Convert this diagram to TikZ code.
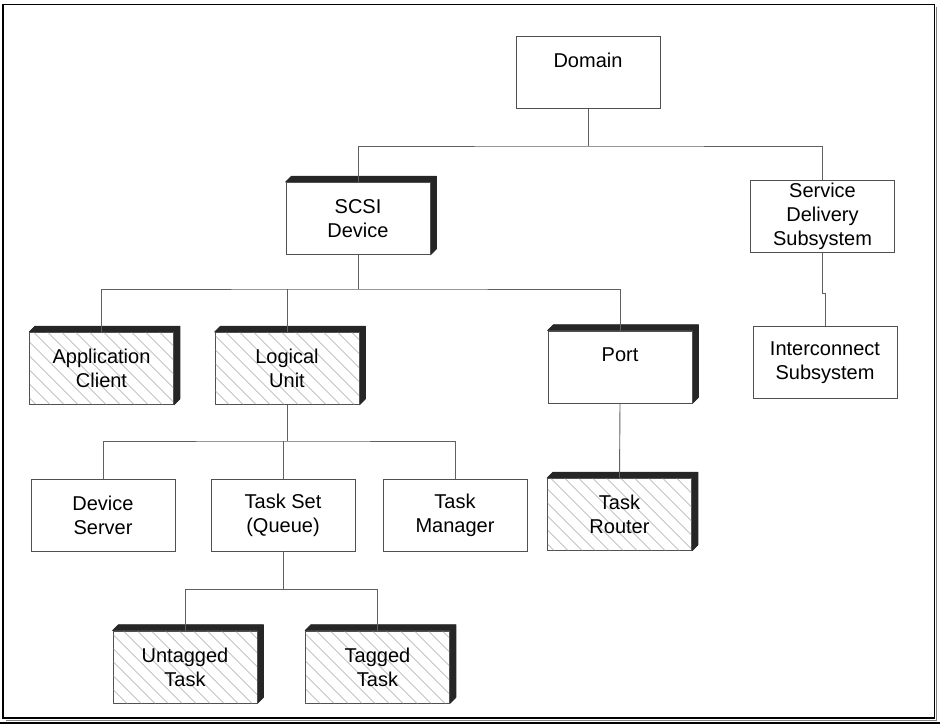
\documentclass[tikz,border=0pt]{standalone}
\usepackage{fontspec}
\setmainfont{Liberation Sans}
\usetikzlibrary{patterns.meta,backgrounds}
\definecolor{boxline}{HTML}{505050}
\definecolor{connline}{HTML}{606060}
\definecolor{shade}{HTML}{262626}
\definecolor{hatch}{HTML}{858585}
\tikzset{
  box/.style={draw=boxline, line width=0.9pt, fill=white, minimum width=144pt,
    minimum height=72pt, align=center, inner sep=0pt,
    font=\fontsize{20}{24}\selectfont},
  hatched/.style={box, postaction={pattern={Lines[angle=-45,distance=10.5pt,line width=0.6pt]}, pattern color=hatch}},
  conn/.style={draw=connline, line width=0.9pt},
  frameline/.style={line width=1.3pt},
  extr/.style={fill=shade, draw=shade, line width=0.6pt, line join=round},
}
\newcommand{\extrude}[1]{%
  \path[extr] (#1.north west) -- ([shift={(6pt,6pt)}]#1.north west)
    -- ([shift={(6pt,6pt)}]#1.north east) -- ([shift={(6pt,6pt)}]#1.south east)
    -- (#1.south east) -- (#1.north east) -- cycle;}
\begin{document}
\begin{tikzpicture}[x=1pt,y=-1pt]
\useasboundingbox (0,0) rectangle (940,724);
% frame
\draw[frameline] (3,4.5) rectangle (934.5,718);
\draw[gray, line width=1pt] (936.5,7) -- (936.5,720) -- (6,720);
\draw[line width=1.2pt] (0,723) -- (940,723);
% boxes
\node[box] (dom) at (588,72.5) {Domain\\\mbox{}};
\node[box] (scsi) at (358,218.5) {SCSI\\Device};
\node[box] (sds) at (822.5,216.5) {Service\\Delivery\\Subsystem};
\node[hatched] (app) at (101.5,368.5) {Application\\Client};
\node[hatched] (lu) at (287,368.5) {Logical\\Unit};
\node[box] (port) at (620,367) {Port\\\mbox{}};
\node[box] (ic) at (825,362.5) {Interconnect\\Subsystem};
\node[box] (ds) at (103,515.5) {Device\\Server};
\node[box] (ts) at (283,515) {Task Set\\(Queue)};
\node[box] (tm) at (455,515) {Task\\Manager};
\node[hatched] (tr) at (619.5,514.5) {Task\\Router};
\node[hatched] (ut) at (185,667) {Untagged\\Task};
\node[hatched] (tg) at (377.5,667) {Tagged\\Task};
\begin{scope}[on background layer]
\extrude{scsi}\extrude{app}\extrude{lu}\extrude{port}\extrude{tr}\extrude{ut}\extrude{tg}
\end{scope}
% connectors
\coordinate (b1) at (588,146);
\coordinate (b2) at (358,289);
\coordinate (b3) at (287,441);
\coordinate (b4) at (283,589);
\draw[conn] (dom.south) -- (b1);
\draw[conn] (scsi.north) |- (b1) -| (sds.north);
\draw[conn] (scsi.south) -- (b2);
\draw[conn] (app.north) |- (b2) -| (port.north);
\draw[conn] (lu.north) -- (lu.north |- b2);
\draw[conn] (sds.south) -- ++(0,40) -| (ic.north);
\draw[conn] (lu.south) -- (b3);
\draw[conn] (ds.north) |- (b3) -| (tm.north);
\draw[conn] (ts.north) -- (ts.north |- b3);
\draw[conn] (port.south) -- (tr.north);
\draw[conn] (ts.south) -- (b4);
\draw[conn] (ut.north) |- (b4) -| (tg.north);
\end{tikzpicture}
\end{document}
